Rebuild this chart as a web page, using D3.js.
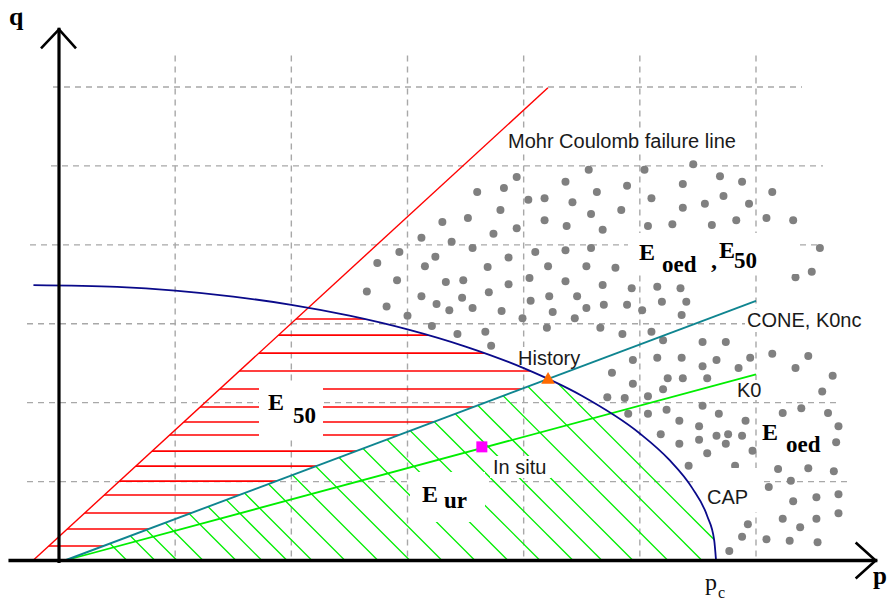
<!DOCTYPE html>
<html><head><meta charset="utf-8">
<script src="https://cdn.jsdelivr.net/npm/d3@7"></script>
<style>html,body{margin:0;padding:0;background:#fff;} svg{display:block;}</style>
</head><body>
<svg id="chart" width="896" height="605"></svg>
<script>
// ---------- data (p, q in grid units) ----------
const gridP = [1, 2, 3, 4, 5, 6];
const gridQ = [1, 2, 3, 4, 5, 6];
const mohrCoulomb = [[-0.224, 0], [4.209, 5.99]];
const coneK0nc = [[0.05, 0], [6.0, 3.29]];
const k0Line = [[0.05, 0], [6.0, 2.36]];
const capCurve = [[-0.22, 3.49], [0.5, 3.467], [1, 3.42], [1.5, 3.344], [2, 3.24], [2.5, 3.103],
  [3, 2.929], [3.5, 2.711], [4, 2.438], [4.5, 2.088], [5, 1.61], [5.25, 1.281], [5.45, 0.92],
  [5.58, 0.563], [5.64, 0.259], [5.656, 0]];
const historyPoint = [4.21, 2.29];
const inSituPoint = [3.64, 1.44];
// red horizontal hatch levels (q) of the E50 zone
const e50Hatch = [3.06, 2.857, 2.629, 2.401, 2.173, 1.945, 1.755, 1.59, 1.387, 1.197, 1.007, 0.83, 0.602, 0.399, 0.184];
// green diagonal hatch, p where each line meets the p axis (Eur zone)
const eurHatch = [0.585, 0.826, 1.016, 1.24, 1.524, 1.747, 1.963, 2.178, 2.462, 2.746, 3.021, 3.297,
  3.581, 3.865, 4.141, 4.425, 4.674, 4.941, 5.242, 5.535, 5.819];
// grey dots of the Eoed / E50 zone
const dots = [
  [4.56,4.95],[3.94,4.86],[3.83,4.72],[3.60,4.67],[4.36,4.80],[4.63,4.67],[4.04,4.57],[4.18,4.59],[4.42,4.54],
  [3.80,4.44],[3.52,4.34],[3.30,4.29],[4.18,4.31],[4.58,4.39],[3.94,4.21],[3.74,4.14],[4.37,4.24],[3.12,4.09],
  [3.38,4.04],[3.56,3.96],[2.93,3.91],[3.24,3.85],[3.87,3.84],[4.10,3.91],[4.36,3.93],[4.58,3.96],
  [5.46,5.02],[5.04,4.95],[5.69,4.87],[4.89,4.75],[5.37,4.77],[5.88,4.80],[5.10,4.59],[5.72,4.62],[6.14,4.67],
  [4.84,4.44],[5.37,4.47],[5.56,4.52],[5.94,4.52],[4.68,4.19],[5.07,4.24],[5.28,4.26],[5.62,4.25],[5.83,4.31],
  [6.09,4.34],[6.32,4.31],[6.55,3.96],
  [4.79,3.71],[6.34,3.59],[6.48,3.66],[4.93,3.45],[5.15,3.47],[5.35,3.45],[4.68,3.49],[4.69,3.24],[4.89,3.24],
  [5.02,3.17],[5.19,3.28],[5.40,3.28],[5.36,3.11],[4.66,2.95],[4.85,2.87],[5.10,2.90],[5.20,2.79],[5.54,2.77],
  [5.74,2.77],[6.14,2.62],[6.45,2.59],[4.94,2.54],[5.15,2.57],[5.36,2.57],[5.54,2.46],[5.66,2.54],[5.85,2.44],
  [5.95,2.57],[6.34,2.44],[6.66,2.34],[4.76,2.38],[4.94,2.24],[5.24,2.31],[5.37,2.31],[5.58,2.31],[6.57,2.14],
  [4.72,2.07],[4.87,2.06],[5.07,2.08],[5.20,2.17],[6.23,1.87],[6.39,1.93],[6.62,1.87],[4.90,1.86],[5.07,1.86],
  [5.23,1.91],[5.54,1.96],[5.68,1.86],[5.91,1.77],[5.34,1.77],[5.51,1.70],[6.71,1.70],[5.18,1.60],[5.51,1.53],
  [5.66,1.58],[5.76,1.60],[5.88,1.58],[5.34,1.48],[5.74,1.48],[6.69,1.50],[5.97,1.39],[5.58,1.36],
  [5.42,1.20],[5.82,1.20],[6.19,1.16],[6.45,1.17],[6.67,1.13],[6.11,0.93],[6.30,1.01],[6.32,0.75],[6.52,0.80],
  [6.71,0.84],[6.23,0.53],[6.52,0.53],[6.71,0.60],[6.38,0.42],[5.93,0.46],[5.88,0.30],[6.09,0.27],[6.29,0.25],
  [6.53,0.23],[5.77,0.12],
  [2.74,3.77],[3.15,3.73],[3.69,3.72],[4.21,3.73],[4.54,3.73],[2.91,3.55],[3.33,3.53],[3.48,3.55],[3.70,3.40],
  [3.87,3.50],[4.05,3.58],[4.36,3.54],[2.65,3.41],[3.12,3.35],[3.47,3.33],[4.22,3.35],[4.46,3.35],[4.06,3.29],
  [2.82,3.22],[3.25,3.25],[3.36,3.17],[3.56,3.20],[3.81,3.16],[4.25,3.15],[4.54,3.20],[3.00,3.10],[3.99,3.07],
  [4.44,3.07],[3.21,2.97],[3.67,2.90],[4.20,2.95],[3.43,2.87],[3.72,2.72]
];

// ---------- scales ----------
const x = d3.scaleLinear().domain([0, 6]).range([59, 756]);
const y = d3.scaleLinear().domain([0, 6]).range([560.5, 87]);
const svg = d3.select('#chart');
const defs = svg.append('defs');
const pt = d => [x(d[0]), y(d[1])];

// clip paths
const capArea = d3.area().x(d => x(d[0])).y0(y(0)).y1(d => y(d[1])).curve(d3.curveMonotoneX);
defs.append('clipPath').attr('id', 'underCap').append('path').attr('d', capArea(capCurve));
const coneSlope = (coneK0nc[1][1] - coneK0nc[0][1]) / (coneK0nc[1][0] - coneK0nc[0][0]);
const coneAt = p => coneK0nc[0][1] + coneSlope * (p - coneK0nc[0][0]);
defs.append('clipPath').attr('id', 'aboveCone').append('polygon')
  .attr('points', [[-1, coneAt(-1)], [9, coneAt(9)], [9, 10], [-1, 10]].map(pt).join(' '));
defs.append('clipPath').attr('id', 'belowCone').append('polygon')
  .attr('points', [[-1, coneAt(-1)], [9, coneAt(9)], [9, -1], [-1, -1]].map(pt).join(' '));
const mcSlope = (mohrCoulomb[1][1] - mohrCoulomb[0][1]) / (mohrCoulomb[1][0] - mohrCoulomb[0][0]);
const mcP = q => mohrCoulomb[0][0] + (q - mohrCoulomb[0][1]) / mcSlope;
defs.append('clipPath').attr('id', 'rightMC').append('polygon')
  .attr('points', [[mcP(-1), -1], [mcP(10), 10], [9, 10], [9, -1]].map(pt).join(' '));

// ---------- grid ----------
const grid = svg.append('g').attr('stroke', '#a8a8a8').attr('stroke-width', 1.4)
  .attr('stroke-dasharray', '6,5').attr('fill', 'none');
grid.selectAll('line.v').data(gridP).join('line').attr('class', 'v')
  .attr('x1', d => x(d)).attr('x2', d => x(d)).attr('y1', y(6.4)).attr('y2', y(0) - 2);
const hExt = {1: [27, 848], 2: [27, 837], 3: [27, 757], 4: [30, 820], 5: [51, 823], 6: [53, 802]};
grid.selectAll('line.h').data(gridQ).join('line').attr('class', 'h')
  .attr('x1', d => hExt[d][0]).attr('x2', d => hExt[d][1]).attr('y1', d => y(d)).attr('y2', d => y(d));

// ---------- hatching ----------
const red = svg.append('g').attr('clip-path', 'url(#underCap)')
  .append('g').attr('clip-path', 'url(#aboveCone)')
  .append('g').attr('clip-path', 'url(#rightMC)');
red.selectAll('line').data(e50Hatch).join('line')
  .attr('x1', x(-1)).attr('x2', x(7)).attr('y1', d => y(d)).attr('y2', d => y(d))
  .attr('stroke', '#ff0000').attr('stroke-width', 1.7);
const green = svg.append('g').attr('clip-path', 'url(#underCap)')
  .append('g').attr('clip-path', 'url(#belowCone)');
green.selectAll('line').data(eurHatch).join('line')
  .attr('x1', d => x(d)).attr('y1', y(0))
  .attr('x2', d => x(d) - 500).attr('y2', y(0) - 500)
  .attr('stroke', '#00ee00').attr('stroke-width', 1.3);

// ---------- dots ----------
svg.append('g').selectAll('circle').data(dots).join('circle')
  .attr('cx', d => x(d[0])).attr('cy', d => y(d[1])).attr('r', 4).attr('fill', '#808080');

// ---------- white label boxes ----------
const boxes = [[259, 382, 64, 56], [410, 472, 75, 50], [628, 233, 170, 41], [758, 418, 70, 40],
  [693, 468, 69, 44], [505, 128, 247, 25], [745, 309, 121, 23], [734, 380, 32, 20], [515, 347, 73, 20], [490, 456, 61, 22]];
svg.append('g').selectAll('rect').data(boxes).join('rect')
  .attr('x', d => d[0]).attr('y', d => d[1]).attr('width', d => d[2]).attr('height', d => d[3]).attr('fill', '#fff');

// ---------- lines ----------
const line = d3.line().x(d => x(d[0])).y(d => y(d[1]));
svg.append('path').attr('d', line(mohrCoulomb)).attr('stroke', '#ff0000').attr('stroke-width', 1.4).attr('fill', 'none');
svg.append('path').attr('d', line(k0Line)).attr('stroke', '#00ee00').attr('stroke-width', 1.8).attr('fill', 'none');
svg.append('path').attr('d', line(coneK0nc)).attr('stroke', '#0f8590').attr('stroke-width', 1.9).attr('fill', 'none');
svg.append('path').attr('d', line.curve(d3.curveMonotoneX)(capCurve)).attr('stroke', '#0a0a8a').attr('stroke-width', 1.8).attr('fill', 'none');

// ---------- axes ----------
const ax = svg.append('g').attr('stroke', '#000').attr('fill', 'none').attr('stroke-linecap', 'square');
ax.append('line').attr('x1', x(-0.42)).attr('x2', x(7.03)).attr('y1', y(0)).attr('y2', y(0)).attr('stroke-width', 3.5);
ax.append('line').attr('x1', x(0)).attr('x2', x(0)).attr('y1', y(0) + 1).attr('y2', y(6.73)).attr('stroke-width', 3.2);
ax.append('path').attr('d', `M${x(0) - 18},${y(6.73) + 19}L${x(0)},${y(6.73)}L${x(0) + 17},${y(6.73) + 19}`)
  .attr('stroke-width', 2.6).attr('stroke-linecap', 'butt');
ax.append('path').attr('d', `M${x(7.03) - 20},${y(0) - 18}L${x(7.03)},${y(0)}L${x(7.03) - 20},${y(0) + 18}`)
  .attr('stroke-width', 2.6).attr('stroke-linecap', 'butt');

// ---------- markers ----------
svg.append('path').attr('transform', `translate(${x(historyPoint[0])},${y(historyPoint[1])})`)
  .attr('d', d3.symbol(d3.symbolTriangle, 80)()).attr('fill', '#ff6a00');
svg.append('path').attr('transform', `translate(${x(inSituPoint[0])},${y(inSituPoint[1])})`)
  .attr('d', d3.symbol(d3.symbolSquare, 121)()).attr('fill', '#ff00ff');

// ---------- text ----------
const sans = "'Liberation Sans', Arial, sans-serif";
const serif = "'Liberation Serif', 'Times New Roman', serif";
const t = (tx, ty, s, opts = {}) => svg.append('text').attr('x', tx).attr('y', ty).text(s)
  .attr('font-family', opts.f || sans).attr('font-size', opts.size || 20)
  .attr('font-weight', opts.w || 'normal').attr('fill', opts.c || '#1a1a1a');
t(508, 148, 'Mohr Coulomb failure line');
t(747, 327, 'CONE, K0nc');
t(737, 397, 'K0');
t(518, 365, 'History');
t(493, 474, 'In situ');
t(707, 504, 'CAP');
const B = {f: serif, w: 'bold', c: '#000'};
t(9, 25, 'q', {...B, size: 26});
t(873, 584, 'p', {...B, size: 25});
t(705, 590, 'p', {f: serif, size: 24, c: '#111'});
t(718, 598, 'c', {f: serif, size: 16, c: '#111'});
t(268, 410, 'E', {...B, size: 24});
t(293, 423, '50', {...B, size: 23});
t(422, 502, 'E', {...B, size: 24});
t(444, 508, 'ur', {...B, size: 23});
t(639, 260, 'E', {...B, size: 24});
t(662, 272, 'oed', {...B, size: 23});
t(711, 268, ',', {...B, size: 24});
t(719, 258, 'E', {...B, size: 24});
t(734, 268, '50', {...B, size: 23});
t(762, 440, 'E', {...B, size: 24});
t(786, 452, 'oed', {...B, size: 23});
</script>
</body></html>
